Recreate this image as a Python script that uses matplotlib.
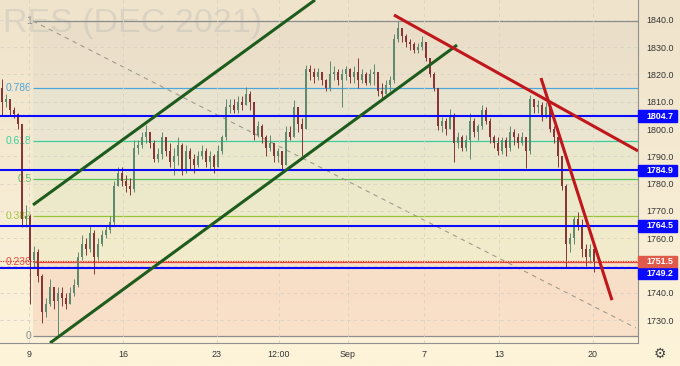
import numpy as np
import matplotlib.pyplot as plt
from matplotlib.patches import Rectangle
from matplotlib.transforms import blended_transform_factory
from matplotlib.colors import LinearSegmentedColormap

# свечи (примерно 4 на торговый день), open = close предыдущей свечи
first_open = 1815.0
closes = [1810, 1811, 1807, 1805.5, 1802, 1767, 1768, 1752, 1755, 1746,
          1733, 1736, 1742, 1737, 1740, 1738, 1736, 1740, 1743, 1753,
          1758, 1756, 1762, 1753, 1758, 1761, 1763, 1766, 1779, 1784,
          1781, 1779, 1778, 1793, 1794, 1797, 1799, 1795, 1789, 1791,
          1797, 1792, 1788, 1790, 1794, 1785, 1792, 1789, 1787, 1790,
          1792, 1788, 1790, 1786, 1792, 1797, 1808, 1809, 1807, 1810,
          1809, 1813, 1810, 1798, 1801, 1797, 1793, 1795, 1790, 1792,
          1787, 1799, 1797, 1808, 1802, 1800, 1822, 1821, 1819, 1821,
          1818, 1815, 1820, 1821, 1818, 1820, 1822, 1819, 1821, 1818,
          1820, 1817, 1820, 1821, 1814, 1813, 1816, 1818, 1833, 1837,
          1834, 1832, 1831, 1829, 1830, 1832, 1826, 1820, 1815, 1801,
          1803, 1800, 1805, 1795, 1797, 1793, 1796, 1803, 1799, 1801,
          1807, 1803, 1797, 1795, 1792, 1796, 1793, 1799, 1797, 1795,
          1797, 1792, 1811, 1808, 1809, 1805, 1808, 1800, 1797, 1790,
          1779, 1758, 1760, 1767, 1765, 1756, 1753, 1756, 1751.5]
highs = [1818.5, 1813, 1811, 1808, 1806, 1802, 1772, 1769, 1757, 1756,
         1747, 1738, 1745, 1742, 1742, 1742, 1740, 1742, 1745, 1755,
         1761, 1760, 1765, 1763, 1760, 1763, 1765, 1768, 1781, 1786,
         1786, 1783, 1782, 1796, 1796, 1799, 1801.5, 1799, 1796, 1793,
         1799, 1797, 1795, 1793, 1797, 1795, 1794, 1793, 1791, 1792,
         1794, 1793, 1792, 1791, 1794, 1798, 1811, 1811, 1811, 1812,
         1812, 1815.5, 1814, 1810, 1803, 1802, 1798, 1798, 1794, 1793,
         1792, 1801, 1801, 1810.5, 1808, 1804, 1823.5, 1823.5, 1822.5, 1822.5,
         1821, 1818.5, 1825, 1823, 1822, 1822, 1823, 1822.5, 1823, 1826,
         1822, 1821, 1822, 1824, 1821, 1817, 1818, 1819.5, 1835, 1839.5,
         1837, 1835, 1833, 1832, 1831.5, 1834, 1832, 1826, 1821, 1815,
         1804.5, 1804, 1807.5, 1806, 1799, 1798, 1798, 1806, 1804, 1802,
         1809, 1808, 1804, 1798, 1797, 1797, 1797, 1801, 1800, 1798.5,
         1799, 1797, 1812.5, 1811, 1810.5, 1810, 1810, 1808, 1801, 1797,
         1790, 1780, 1762, 1768, 1769.5, 1767, 1758, 1758, 1756]
lows = [1805, 1808, 1805, 1804, 1800, 1764, 1764, 1736, 1749, 1744,
        1729, 1731, 1735, 1734, 1724, 1735, 1734, 1736, 1739, 1742,
        1752, 1754, 1755, 1747, 1752, 1757, 1760, 1762, 1765, 1779,
        1779, 1777, 1776, 1777, 1791, 1793, 1795, 1793, 1788, 1788,
        1789, 1790, 1786, 1783, 1787, 1783, 1784, 1785, 1784, 1786,
        1789, 1786, 1785, 1784, 1786, 1791, 1796, 1806, 1806, 1806,
        1807, 1809, 1807, 1796, 1797, 1795, 1790, 1792, 1788, 1788,
        1785.5, 1787, 1796, 1797, 1799, 1790, 1800, 1818, 1817, 1818,
        1816, 1814, 1814, 1818, 1816, 1808, 1818, 1817, 1817, 1815,
        1817, 1816, 1816, 1816, 1812, 1810.5, 1813, 1814, 1817, 1832,
        1832, 1830, 1829, 1828, 1828, 1829, 1825, 1819, 1814, 1799.5,
        1799, 1798, 1800, 1788, 1793, 1792, 1792, 1789, 1797, 1796,
        1800, 1802, 1795, 1793, 1790.5, 1791, 1790, 1792, 1794, 1793,
        1794, 1785.7, 1791, 1806, 1806, 1803, 1804, 1799, 1795, 1786,
        1777.5, 1749.5, 1755, 1758, 1763, 1753, 1750, 1751, 1747.5]

tick_pos = [6.75, 30.25, 53.75, 69.25, 86.5, 105.5, 124.25, 147.75]
tick_labels = ['9', '16', '23', '12:00', 'Sep', '7', '13', '20']

# фибо-коррекция
fib_low, fib_high = 1724.1, 1839.6
fib_levels = [0, 0.236, 0.382, 0.5, 0.618, 0.786, 1]
fib_names = ['0', '0.236', '0.382', '0.5', '0.618', '0.786', '1']
fib_colors = ['#8c8c8c', '#e8493c', '#98c43a', '#55c25a', '#3ccf9c', '#4fa4d8', '#8c8c8c']
fib_start = 7.75

levels = [1804.7, 1784.9, 1764.5, 1749.2]
level_label_pos = [1804.7, 1784.9, 1764.5, 1747.1]
last_price = 1751.5

green_lines = [((7.75, 1772.2), (78.25, 1847.3)), ((12.0, 1721.6), (113.75, 1830.8))]
red_lines = [((98.0, 1841.8), (159.0, 1792.0)), ((134.75, 1818.7), (152.5, 1737.3))]
fib_diag = ((7.75, 1839.6), (158.5, 1727.1))

xmin, xmax = -0.5, 159
ymin, ymax = 1721.6, 1847.3

plt.rcParams['font.family'] = ['Liberation Sans', 'DejaVu Sans']

fig = plt.figure(figsize=(6.8, 3.66), dpi=100)

# фон с градиентом
bg = fig.add_axes([0, 0, 1, 1])
bg.set_zorder(-1)
cmap = LinearSegmentedColormap.from_list('bg', ['#efe3cb', '#fdf4da'])
bg.imshow(np.linspace(0, 1, 200).reshape(-1, 1), aspect='auto', cmap=cmap,
          extent=[0, 1, 0, 1], origin='upper')
bg.axis('off')

ax = fig.add_axes([0, 23 / 366, 638 / 680, 343 / 366])
ax.set_facecolor('none')
ax.set_xlim(xmin, xmax)
ax.set_ylim(ymin, ymax)

ax.text(3 / 680, 1 - 32 / 366, 'RES (DEC 2021)', transform=fig.transFigure,
        fontsize=24.5, color='#dcd4c3', va='baseline', ha='left', zorder=0.5)

# зоны и уровни фибо
fib_prices = [fib_low + f * (fib_high - fib_low) for f in fib_levels]
for k in range(len(fib_prices) - 1):
    a = 0.1 if k == 0 else 0.06
    ax.fill_between([fib_start, xmax], fib_prices[k], fib_prices[k + 1],
                    color=fib_colors[k + 1], alpha=a, lw=0, zorder=0.6)
for p, name, c in zip(fib_prices, fib_names, fib_colors):
    ax.hlines(p, fib_start, xmax, color=c, lw=0.9, zorder=1)
    ax.text(fib_start - 0.4, p, name, ha='right', va='center', color=c, fontsize=7.4, zorder=1)

ax.plot([fib_diag[0][0], fib_diag[1][0]], [fib_diag[0][1], fib_diag[1][1]],
        color='#a09a90', lw=0.8, ls=(0, (4, 4)), zorder=1)

# свечи
opens = [first_open] + closes[:-1]
x = np.arange(len(closes))
for i in x:
    o, c = opens[i], closes[i]
    col = '#5e8a6e' if c >= o else '#8a3535'
    ax.vlines(i, lows[i], highs[i], color=col, lw=0.7, zorder=3)
    ax.bar(i, max(abs(c - o), 0.3), bottom=min(o, c), width=0.55, color=col, lw=0, zorder=3)

# горизонтальные уровни
for lv in levels:
    ax.axhline(lv, color='#0a0aff', lw=1.5, zorder=4)
ax.axhline(last_price, color='#e53b30', lw=0.9, ls=(0, (1, 1)), zorder=4)

for (p0, p1) in green_lines:
    ax.plot([p0[0], p1[0]], [p0[1], p1[1]], color='#1d5c1d', lw=2.2, zorder=5,
            solid_capstyle='butt')
for (p0, p1) in red_lines:
    ax.plot([p0[0], p1[0]], [p0[1], p1[1]], color='#c0171c', lw=2.2, zorder=5,
            solid_capstyle='butt')

# оси
ax.yaxis.tick_right()
yt = np.arange(1730, 1841, 10)
# 1750.0 закрыта плашками цен
ax.set_yticks(yt, ['' if v == 1750 else f'{v:.1f}' for v in yt])
ax.set_xticks(tick_pos, tick_labels)
ax.tick_params(axis='y', length=0, pad=5.8, labelsize=6.4, labelcolor='#333333')
ax.tick_params(axis='x', length=0, pad=5, labelsize=6.4, labelcolor='#333333')
ax.grid(True, ls=(0, (4, 4)), color='#d9d2c4', lw=0.6, zorder=0.7)
for s in ['top', 'left']:
    ax.spines[s].set_visible(False)
for s in ['right', 'bottom']:
    ax.spines[s].set_color('#8f8f8f')
    ax.spines[s].set_linewidth(0.8)

# метки цен на шкале
tr = blended_transform_factory(ax.transAxes, ax.transData)
box_w = 39 / 638
box_h = 11.5 / 343 * (ymax - ymin)
for pos, lv in zip(level_label_pos, levels):
    ax.add_patch(Rectangle((1.0, pos - box_h / 2), box_w, box_h, transform=tr,
                           color='#0a0aff', clip_on=False, zorder=10))
    ax.text(1 + 8 / 638, pos, f'{lv:.1f}', transform=tr, color='white', fontsize=6.4,
            fontweight='bold', va='center', ha='left', clip_on=False, zorder=11)
ax.add_patch(Rectangle((1.0, last_price - box_h / 2), box_w, box_h, transform=tr,
                       color='#e05a4b', clip_on=False, zorder=10))
ax.text(1 + 8 / 638, last_price, f'{last_price:.1f}', transform=tr, color='white',
        fontsize=6.4, fontweight='bold', va='center', ha='left', clip_on=False, zorder=11)

fig.text(660 / 680, 1 - 354 / 366, '\u2699', ha='center', va='center', fontsize=10,
         color='#444444', family='DejaVu Sans')

fig.savefig('out.png', dpi=100)
